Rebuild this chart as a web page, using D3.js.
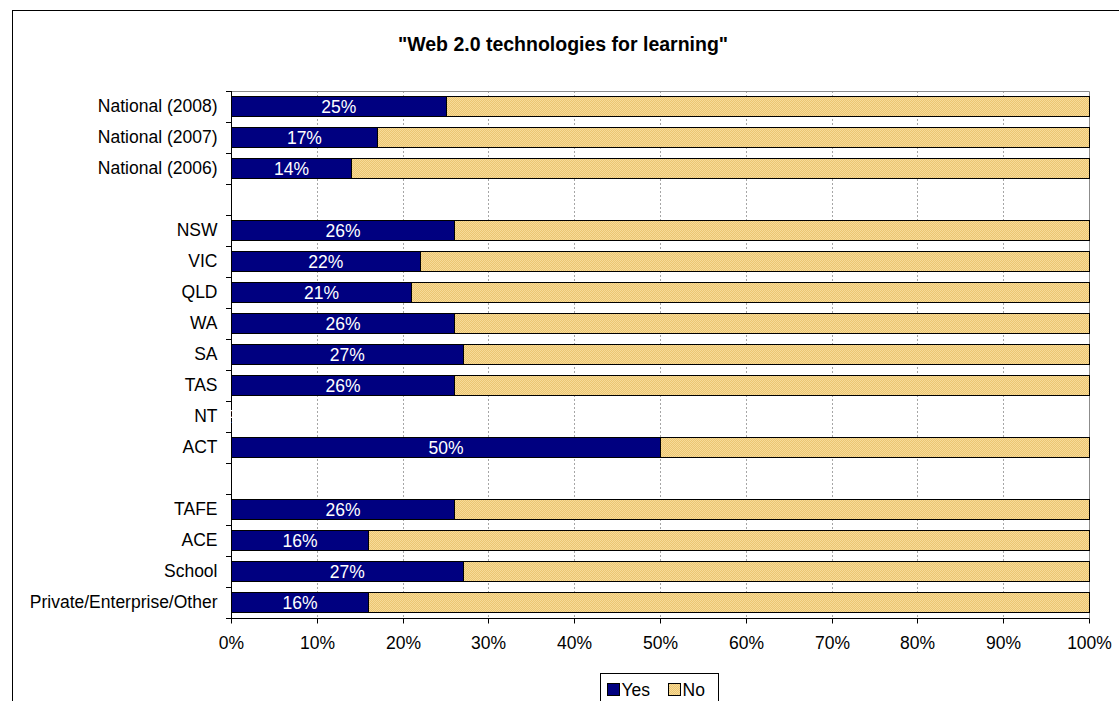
<!DOCTYPE html>
<html>
<head>
<meta charset="utf-8">
<script src="https://cdn.jsdelivr.net/npm/d3@7"></script>
<style>
  body { margin: 0; background: #fff; }
  svg { display: block; font-family: "Liberation Sans", Arial, sans-serif; }
</style>
</head>
<body>
<svg id="chart" width="1119" height="701"></svg>
<script>
const categories = ["National (2008)", "National (2007)", "National (2006)", "", "NSW", "VIC", "QLD", "WA", "SA", "TAS", "NT", "ACT", "", "TAFE", "ACE", "School", "Private/Enterprise/Other"];
const yesValues = [25, 17, 14, null, 26, 22, 21, 26, 27, 26, 0, 50, null, 26, 16, 27, 16];
const noValues  = [75, 83, 86, null, 74, 78, 79, 74, 73, 74, 0, 50, null, 74, 84, 73, 84];
const xTicks = [0, 10, 20, 30, 40, 50, 60, 70, 80, 90, 100];
const seriesNames = ["Yes", "No"];
const titleText = "\"Web 2.0 technologies for learning\"";

const FS = 17.5;
const svg = d3.select("#chart");
const plot = { left: 231, right: 1089, top: 91, bottom: 618 };

// pattern for "No"
const defs = svg.append("defs");
const pat = defs.append("pattern").attr("id", "noPat").attr("patternUnits", "userSpaceOnUse")
  .attr("width", 2).attr("height", 2);
pat.append("rect").attr("width", 2).attr("height", 2).attr("fill", "#EBC572");
pat.append("rect").attr("width", 1).attr("height", 1).attr("fill", "#F7DB98");
pat.append("rect").attr("x", 1).attr("y", 1).attr("width", 1).attr("height", 1).attr("fill", "#F7DB98");

const colors = { Yes: "#000080", No: "url(#noPat)" };

// outer frame
svg.append("rect").attr("x", 12.5).attr("y", 10.5).attr("width", 1120).attr("height", 700)
  .attr("fill", "#fff").attr("stroke", "#000").attr("stroke-width", 1);

// title
svg.append("text").attr("x", 563).attr("y", 51).attr("text-anchor", "middle")
  .attr("font-size", 19.5).attr("font-weight", "bold").attr("fill", "#000").text(titleText);

const x = d3.scaleLinear().domain([0, 100]).range([plot.left, plot.right]);
const y = d3.scaleBand().domain(d3.range(categories.length))
  .range([plot.top, plot.bottom]).paddingInner(0.34).paddingOuter(0.17);

// gridlines
svg.append("g").selectAll("line").data(xTicks.filter(t => t > 0 && t < 100)).join("line")
  .attr("x1", d => Math.round(x(d)) + 0.5).attr("x2", d => Math.round(x(d)) + 0.5)
  .attr("y1", plot.top).attr("y2", plot.bottom)
  .attr("stroke", "#A6A6A6").attr("stroke-dasharray", "2,2").attr("stroke-width", 1);

// plot border top and right (grey)
svg.append("path")
  .attr("d", `M${plot.left},${plot.top + 0.5}H${plot.right + 0.5}V${plot.bottom}`)
  .attr("fill", "none").attr("stroke", "#8C8C8C").attr("stroke-width", 1);

// stacked data
const rows = categories.map((c, i) => ({ i, c, Yes: yesValues[i], No: noValues[i] }));
const stack = d3.stack().keys(seriesNames).value((d, k) => d[k] == null ? 0 : d[k]);
const stacked = stack(rows);

const gBars = svg.append("g");
stacked.forEach(layer => {
  gBars.append("g").selectAll("rect")
    .data(layer.filter(d => d.data.Yes != null && (d[1] - d[0]) > 0))
    .join("rect")
    .attr("x", d => Math.round(x(d[0])) + 0.5)
    .attr("width", d => Math.round(x(d[1])) - Math.round(x(d[0])))
    .attr("y", d => Math.round(y(d.data.i)) + 0.5)
    .attr("height", Math.round(y.bandwidth()))
    .attr("fill", colors[layer.key])
    .attr("stroke", "#000").attr("stroke-width", 1);
});

// x axis
const xAxis = d3.axisBottom(x).tickValues(xTicks).tickFormat(d => d + "%")
  .tickSize(5).tickPadding(13.2);
const gx = svg.append("g").attr("transform", `translate(0,${plot.bottom + 0.5})`).call(xAxis);
gx.select(".domain").attr("stroke", "#000").attr("d", `M${plot.left},0H${plot.right + 0.5}`);
gx.selectAll(".tick line").attr("stroke", "#000");
gx.selectAll(".tick text").attr("font-size", FS).attr("font-family", "Liberation Sans, Arial, sans-serif").attr("fill", "#000");
gx.selectAll(".tick").attr("transform", d => `translate(${Math.round(x(d)) + 0.5},0)`);

// y axis: labels at band centres, ticks at band boundaries
const yAxis = d3.axisLeft(y).tickFormat(i => categories[i]).tickSize(0).tickPadding(14);
const gy = svg.append("g").attr("transform", `translate(${plot.left + 0.5},0)`).call(yAxis);
gy.select(".domain").remove();
gy.selectAll(".tick text").attr("font-size", FS).attr("font-family", "Liberation Sans, Arial, sans-serif").attr("fill", "#000");
svg.append("line").attr("x1", plot.left + 0.5).attr("x2", plot.left + 0.5)
  .attr("y1", plot.top).attr("y2", plot.bottom + 0.5).attr("stroke", "#000");
const bounds = d3.range(categories.length + 1).map(k => plot.top + k * y.step());
svg.append("g").selectAll("line").data(bounds).join("line")
  .attr("x1", plot.left - 5).attr("x2", plot.left)
  .attr("y1", d => Math.round(d) + 0.5).attr("y2", d => Math.round(d) + 0.5)
  .attr("stroke", "#000");

// data labels for Yes
svg.append("g").selectAll("text")
  .data(stacked[0].filter(d => d.data.Yes != null))
  .join("text")
  .attr("x", d => (x(d[0]) + x(d[1])) / 2 + 0.5)
  .attr("y", d => y(d.data.i) + y.bandwidth() / 2 + 6.3)
  .attr("text-anchor", "middle").attr("font-size", FS).attr("fill", "#fff")
  .text(d => d.data.Yes + "%");

// legend
const lg = svg.append("g");
lg.append("rect").attr("x", 600.5).attr("y", 673.5).attr("width", 118).attr("height", 40)
  .attr("fill", "#fff").attr("stroke", "#000");
const legendX = [607, 668];
seriesNames.forEach((s, k) => {
  lg.append("rect").attr("x", legendX[k] + 0.5).attr("y", 683.5).attr("width", 12).attr("height", 12)
    .attr("fill", colors[s]).attr("stroke", "#000");
  lg.append("text").attr("x", legendX[k] + 14.5).attr("y", 696).attr("font-size", FS).attr("fill", "#000").text(s);
});
</script>
</body>
</html>
